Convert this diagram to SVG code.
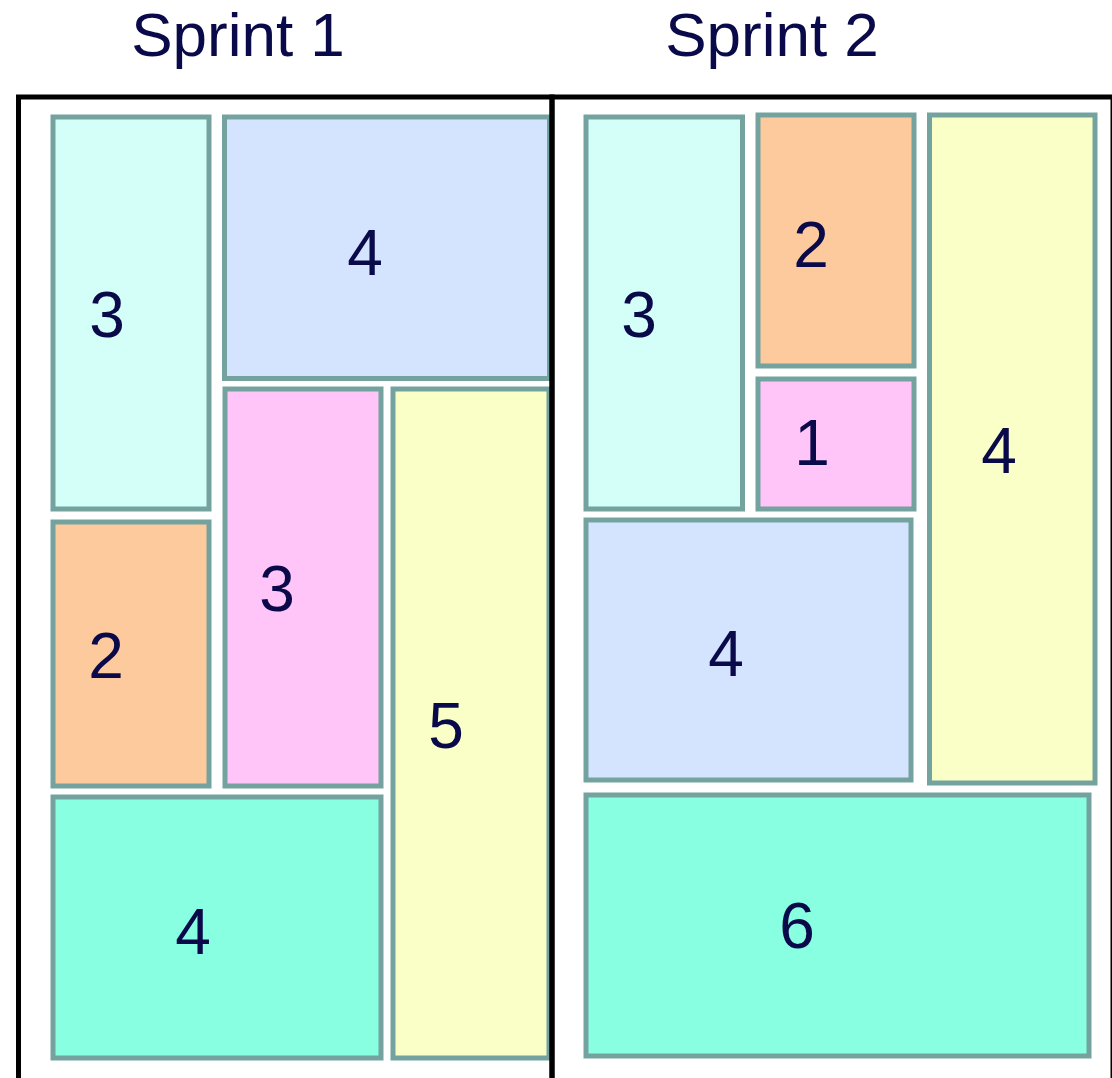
<svg xmlns="http://www.w3.org/2000/svg" width="1112" height="1078" viewBox="0 0 1112 1078">
<style>
.card{stroke:#74A39F;stroke-width:5}
.num{font-family:"Liberation Sans",Arial,sans-serif;font-size:64px;fill:#0A0A4A;text-anchor:middle}
.title{font-family:"Liberation Sans",Arial,sans-serif;font-size:62px;fill:#0A0A4A;text-anchor:middle}
.frame{fill:none;stroke:#000;stroke-width:5}
.cyan{fill:#D4FFF8}.blue{fill:#D4E4FF}.pink{fill:#FFC4F8}.yellow{fill:#FAFFC8}.orange{fill:#FCCA9C}.green{fill:#88FFE0}
</style>
<rect width="1112" height="1078" fill="#fff"/>
<g id="titles">
<text class="title" x="238" y="56">Sprint 1</text>
<text class="title" x="772" y="56">Sprint 2</text>
</g>
<g id="sprint1">
<g id="s1-a"><rect class="card cyan" x="53" y="117" width="156" height="392"/><text class="num" x="107" y="337">3</text></g>
<g id="s1-b"><rect class="card blue" x="224.5" y="117" width="325" height="261.5"/><text class="num" x="365" y="275">4</text></g>
<g id="s1-c"><rect class="card pink" x="225" y="389" width="156" height="397"/><text class="num" x="277" y="611">3</text></g>
<g id="s1-d"><rect class="card yellow" x="393" y="389" width="156" height="669"/><text class="num" x="446" y="748">5</text></g>
<g id="s1-e"><rect class="card orange" x="53" y="522" width="156" height="264"/><text class="num" x="106" y="678">2</text></g>
<g id="s1-f"><rect class="card green" x="53" y="797" width="328" height="261"/><text class="num" x="193" y="954">4</text></g>
</g>
<g id="sprint2">
<g id="s2-a"><rect class="card cyan" x="586" y="117" width="156.5" height="392"/><text class="num" x="639" y="337">3</text></g>
<g id="s2-b"><rect class="card orange" x="758" y="115" width="156" height="251"/><text class="num" x="811" y="267">2</text></g>
<g id="s2-c"><rect class="card pink" x="758" y="379" width="156" height="130"/><text class="num" x="812" y="465">1</text></g>
<g id="s2-d"><rect class="card yellow" x="929.5" y="115" width="165.5" height="668"/><text class="num" x="999" y="473">4</text></g>
<g id="s2-e"><rect class="card blue" x="586" y="520" width="325" height="260"/><text class="num" x="726" y="676">4</text></g>
<g id="s2-f"><rect class="card green" x="586" y="795" width="503" height="261"/><text class="num" x="797" y="948">6</text></g>
</g>
<g id="frames">
<rect class="frame" x="18.5" y="97" width="533.5" height="1010"/>
<rect class="frame" x="552" y="97" width="561" height="1010"/>
</g>
</svg>
